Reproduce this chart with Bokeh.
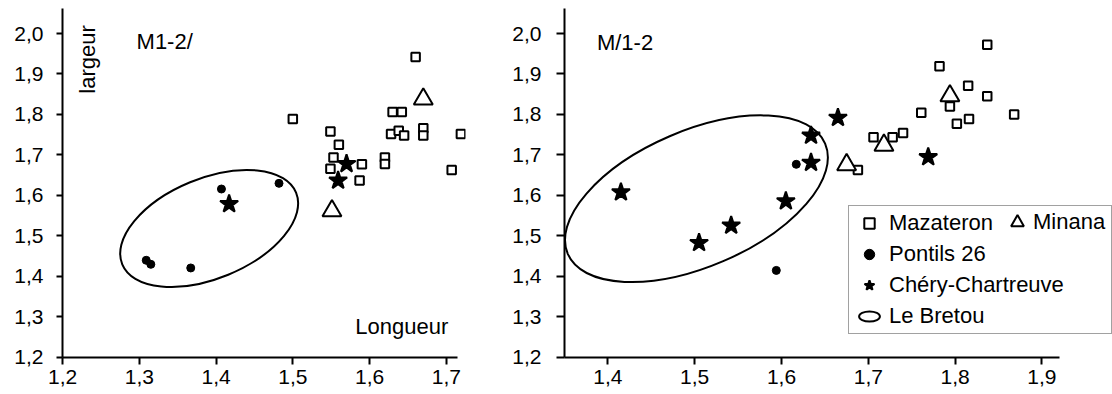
import math
from bokeh.plotting import figure
from bokeh.layouts import row
from bokeh.models import Range1d, FixedTicker, Legend, LegendItem, Label
from bokeh.embed import file_html
from bokeh.resources import INLINE

# ---------------- data ----------------
# left panel  (M1-2/)
L_maz_x = [1.660, 1.500, 1.630, 1.642, 1.670, 1.670, 1.628, 1.638, 1.645, 1.719,
           1.549, 1.560, 1.553, 1.549, 1.590, 1.587, 1.620, 1.620, 1.707]
L_maz_y = [1.942, 1.789, 1.806, 1.806, 1.766, 1.748, 1.752, 1.760, 1.748, 1.752,
           1.758, 1.725, 1.694, 1.666, 1.677, 1.637, 1.694, 1.678, 1.663]
L_min_x = [1.670, 1.551]
L_min_y = [1.838, 1.562]
L_pon_x = [1.407, 1.482, 1.309, 1.315, 1.367]
L_pon_y = [1.616, 1.630, 1.440, 1.430, 1.421]
L_che_x = [1.570, 1.559, 1.417]
L_che_y = [1.678, 1.637, 1.579]
L_bre_x = [1.391]
L_bre_y = [1.5185]

# right panel (M/1-2)
R_maz_x = [1.837, 1.782, 1.815, 1.837, 1.794, 1.761, 1.868, 1.802, 1.816,
           1.706, 1.728, 1.740, 1.688]
R_maz_y = [1.972, 1.919, 1.871, 1.845, 1.820, 1.804, 1.800, 1.777, 1.789,
           1.744, 1.744, 1.754, 1.663]
R_min_x = [1.794, 1.718, 1.675]
R_min_y = [1.846, 1.724, 1.676]
R_pon_x = [1.617, 1.594]
R_pon_y = [1.677, 1.415]
R_che_x = [1.665, 1.769, 1.634, 1.634, 1.415, 1.605, 1.542, 1.505]
R_che_y = [1.792, 1.695, 1.748, 1.681, 1.608, 1.586, 1.526, 1.483]
R_bre_x = [1.502]
R_bre_y = [1.592]

y_ticks = [1.2, 1.3, 1.4, 1.5, 1.6, 1.7, 1.8, 1.9, 2.0]
y_labels = ["1,2", "1,3", "1,4", "1,5", "1,6", "1,7", "1,8", "1,9", "2,0"]
xL_ticks = [1.2, 1.3, 1.4, 1.5, 1.6, 1.7]
xL_labels = ["1,2", "1,3", "1,4", "1,5", "1,6", "1,7"]
xR_ticks = [1.4, 1.5, 1.6, 1.7, 1.8, 1.9]
xR_labels = ["1,4", "1,5", "1,6", "1,7", "1,8", "1,9"]

FONT = "Liberation Sans"
H = 394
Y_TOP = 2.0815


def style_axes(p, xt, xl, xbounds, ytick_out, ystandoff):
    p.outline_line_color = None
    p.grid.visible = False
    p.xaxis.ticker = FixedTicker(ticks=xt)
    p.xaxis.major_label_overrides = dict(zip(xt, xl))
    p.xaxis.bounds = xbounds
    p.yaxis.ticker = FixedTicker(ticks=y_ticks)
    p.yaxis.major_label_overrides = dict(zip(y_ticks, y_labels))
    p.yaxis.bounds = (1.1999, 2.062)
    for ax in (p.xaxis[0], p.yaxis[0]):
        ax.axis_line_width = 2
        ax.axis_line_color = "black"
        ax.major_tick_line_width = 2
        ax.major_tick_line_color = "black"
        ax.major_tick_in = 0
        ax.major_tick_out = 7
        ax.minor_tick_line_color = None
        ax.major_label_text_font = FONT
        ax.major_label_text_font_size = "21px"
        ax.major_label_text_color = "black"
    p.xaxis.major_label_standoff = 5
    p.yaxis.major_tick_out = ytick_out
    p.yaxis.major_label_standoff = ystandoff


def draw(p, mx, my, nx, ny, px, py, cx, cy, bx, by, bw, bh, ba):
    rm = p.scatter(mx, my, marker="square", size=8.5, fill_color="white",
                   line_color="black", line_width=2)
    rn = p.scatter(nx, ny, marker="triangle", size=19, fill_color="white",
                   line_color="black", line_width=2)
    rp = p.scatter(px, py, marker="circle", size=8, fill_color="black",
                   line_color="black")
    rc = p.scatter(cx, cy, marker="star", size=19, fill_color="black",
                   line_color="black", line_width=2)
    rb = p.ellipse(bx, by, width=bw, height=bh, angle=ba,
                   width_units="screen", height_units="screen",
                   fill_color=None, line_color="black", line_width=2)
    return rm, rn, rp, rc, rb


# ---------------- left figure ----------------
p1 = figure(width=485, height=H, x_range=Range1d(1.1999, 1.725),
            y_range=Range1d(1.1999, Y_TOP), output_backend="svg",
            toolbar_location=None, min_border_left=62, min_border_right=20,
            min_border_top=0, min_border_bottom=37)
style_axes(p1, xL_ticks, xL_labels, (1.1999, 1.715), 6, 13)
draw(p1, L_maz_x, L_maz_y, L_min_x, L_min_y, L_pon_x, L_pon_y,
     L_che_x, L_che_y, L_bre_x, L_bre_y, 188, 100, math.radians(22.4))

p1.add_layout(Label(x=1.2964, y=1.980, text="M1-2/", text_font=FONT,
                    text_font_size="22px", text_align="left",
                    text_baseline="middle", text_color="black"))
p1.add_layout(Label(x=1.232, y=1.936, text="largeur", text_font=FONT,
                    text_font_size="22px", text_align="center",
                    text_baseline="middle", angle=math.pi / 2,
                    text_color="black"))
p1.add_layout(Label(x=1.7026, y=1.2765, text="Longueur", text_font=FONT,
                    text_font_size="22px", text_align="right",
                    text_baseline="middle", text_color="black"))

# ---------------- right figure ----------------
p2 = figure(width=627, height=H, x_range=Range1d(1.35, 1.9813),
            y_range=Range1d(1.1999, Y_TOP), output_backend="svg",
            toolbar_location=None, min_border_left=79, min_border_right=0,
            min_border_top=0, min_border_bottom=37)
style_axes(p2, xR_ticks, xR_labels, (1.35, 1.92), 8, 15)
rm, rn, rp, rc, rb = draw(p2, R_maz_x, R_maz_y, R_min_x, R_min_y, R_pon_x,
                          R_pon_y, R_che_x, R_che_y, R_bre_x, R_bre_y,
                          280, 136, math.radians(23.2))

p2.add_layout(Label(x=1.3873, y=1.978, text="M/1-2", text_font=FONT,
                    text_font_size="22px", text_align="left",
                    text_baseline="middle", text_color="black"))

leg = Legend(items=[LegendItem(label="Mazateron", renderers=[rm]),
                    LegendItem(label="Pontils 26", renderers=[rp]),
                    LegendItem(label="Chéry-Chartreuve", renderers=[rc]),
                    LegendItem(label="Le Bretou", renderers=[rb])],
             location=(284, 23), orientation="vertical", padding=4, margin=0,
             spacing=5, glyph_width=32, glyph_height=26, label_standoff=4,
             label_width=218, label_height=26, label_text_font=FONT,
             label_text_font_size="22px", label_text_color="black",
             border_line_color="#444444", border_line_width=1,
             background_fill_color="white", background_fill_alpha=1)
p2.add_layout(leg)

leg2 = Legend(items=[LegendItem(label="Minana", renderers=[rn])],
              location=(437, 119), orientation="vertical", padding=0, margin=0,
              spacing=0, glyph_width=32, glyph_height=32, label_standoff=0,
              label_height=32, label_text_font=FONT,
              label_text_font_size="22px", label_text_color="black",
              border_line_color=None, background_fill_alpha=0)
p2.add_layout(leg2)

layout = row(p1, p2)
open("out.html", "w").write(file_html(layout, INLINE))
